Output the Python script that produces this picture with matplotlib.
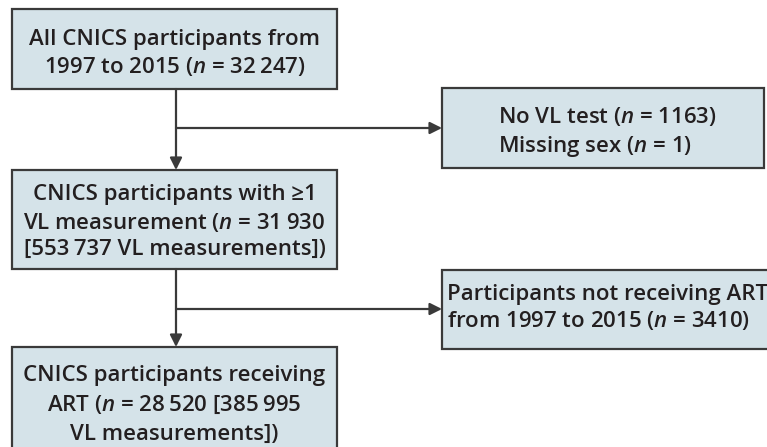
import matplotlib
matplotlib.use("Agg")
import matplotlib.pyplot as plt
from matplotlib.patches import Rectangle

plt.rcParams['font.family'] = ['Open Sans', 'DejaVu Sans']
plt.rcParams['font.weight'] = 'semibold'
plt.rcParams['mathtext.fontset'] = 'custom'
plt.rcParams['mathtext.rm'] = 'Open Sans:semibold'
plt.rcParams['mathtext.it'] = 'Open Sans:italic:semibold'

# box texts (one entry per line)
main_lines = [
    ["All CNICS participants from", "1997 to 2015 ($n$ = 32\u2009247)"],
    ["CNICS participants with \u22651", "VL measurement ($n$ = 31\u2009930", "[553\u2009737 VL measurements])"],
    ["CNICS participants receiving", "ART ($n$ = 28\u2009520 [385\u2009995", "VL measurements])"],
]
side_lines = [
    ["No VL test ($n$ = 1163)", "Missing sex ($n$ = 1)"],
    ["Participants not receiving ART", "from 1997 to 2015 ($n$ = 3410)"],
]

fill = '#d5e3e9'
edge = '#3a3a3a'
txt = '#231f20'

fig = plt.figure(figsize=(7.67, 4.47), dpi=100)
ax = fig.add_axes([0, 0, 1, 1])
ax.set_xlim(0, 767)
ax.set_ylim(447, 0)
ax.axis('off')

# main boxes: (x0, y0, x1, y1)
main_boxes = [(12, 9, 337, 89), (12, 170, 337, 269), (12, 347, 337, 470)]
main_line_y = [[37, 64], [192, 220, 247], [373, 402, 432]]
side_boxes = [(442, 88, 764, 168), (442, 270, 780, 349)]
side_line_y = [[114, 143], [292, 318]]
side_text_x = [498, 447]

for (x0, y0, x1, y1) in main_boxes + side_boxes:
    ax.add_patch(Rectangle((x0, y0), x1 - x0, y1 - y0, facecolor=fill,
                           edgecolor=edge, linewidth=1.6, clip_on=True))

for lines, ys, (x0, y0, x1, y1) in zip(main_lines, main_line_y, main_boxes):
    for s, y in zip(lines, ys):
        ax.text((x0 + x1) / 2, y, s, ha='center', va='center_baseline',
                fontsize=16, color=txt)

for lines, ys, x in zip(side_lines, side_line_y, side_text_x):
    for s, y in zip(lines, ys):
        ax.text(x, y, s, ha='left', va='center_baseline', fontsize=16, color=txt)

stem_x = 176
arrow_kw = dict(arrowstyle='-|>', color=edge, lw=1.6, mutation_scale=18,
                shrinkA=0, shrinkB=0)
# vertical arrows
for (a, b) in [(main_boxes[0], main_boxes[1]), (main_boxes[1], main_boxes[2])]:
    ax.annotate('', xy=(stem_x, b[1]), xytext=(stem_x, a[3]), arrowprops=arrow_kw)
# horizontal arrows
for y, sb in zip([128, 309], side_boxes):
    ax.annotate('', xy=(sb[0], y), xytext=(stem_x, y), arrowprops=arrow_kw)

fig.savefig('out.png', dpi=100, facecolor='white')
